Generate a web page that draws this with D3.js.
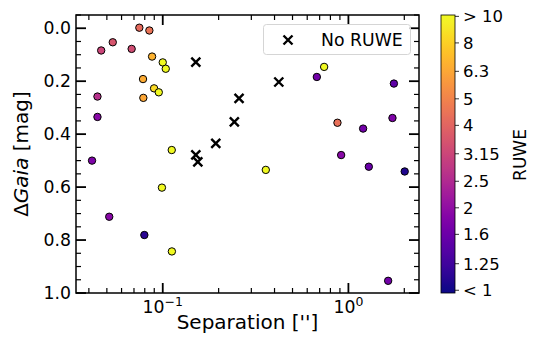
<!DOCTYPE html>
<html><head><meta charset="utf-8">
<script src="https://cdn.jsdelivr.net/npm/d3@7"></script>
<style>body{margin:0;background:#fff;} svg{display:block;font-family:"DejaVu Sans",sans-serif;}</style>
</head><body>
<svg id="c" width="541" height="343"></svg>
<script>
// Data
const sepCircles = [0.0748,0.0847,0.0538,0.0466,0.068,0.0876,0.100,0.1038,0.0783,0.0898,0.0952,0.0786,0.0445,0.0445,0.0416,0.1118,0.099,0.0515,0.0796,0.112,0.740,0.676,1.758,0.873,1.20,1.727,0.914,1.288,2.01,0.359,1.637];
const dmagCircles = [-0.002,0.0085,0.053,0.084,0.078,0.107,0.129,0.153,0.192,0.227,0.242,0.263,0.258,0.335,0.500,0.460,0.602,0.712,0.781,0.843,0.146,0.184,0.209,0.357,0.379,0.339,0.479,0.523,0.541,0.535,0.954];
const ruweCircles = [4.17,4.47,3.55,3.16,3.31,6.76,12,11,6.46,8.5,11,6.3,2.63,1.9,1.78,12,12,1.9,1.12,12,12,1.66,1.48,4.37,1.66,1.78,1.9,1.58,1.07,12,1.66];
const sepCrosses = [0.1507,0.4217,0.2576,0.243,0.193,0.1507,0.1545];
const dmagCrosses = [0.128,0.203,0.265,0.354,0.435,0.478,0.505];
const yTicks = [0.0,0.2,0.4,0.6,0.8,1.0];
const xMajorTicks = [0.1,1];
const xTickExponents = ["\u22121","0"];
const cbTickValues = [1,1.25,1.6,2,2.5,3.15,4,5,6.3,8,10];
const cbTickLabels = ["< 1","1.25","1.6","2","2.5","3.15","4","5","6.3","8","> 10"];

const svg = d3.select("#c");
const X0=76, X1=419, Y0=15, Y1=293;
const FS = 17.3;
const x = d3.scaleLog().domain([0.0341,2.40]).range([X0,X1]);
const y = d3.scaleLinear().domain([-0.05,1.0]).range([Y0,Y1]);
const cb = d3.scaleLinear().domain([-0.01,1.005]).range([Y1,Y0]);
const color = v => d3.interpolatePlasma(Math.max(0,Math.min(1,Math.log10(v))));

// Colorbar gradient
const defs = svg.append("defs");
const grad = defs.append("linearGradient").attr("id","g").attr("x1",0).attr("y1",1).attr("x2",0).attr("y2",0);
for(let i=0;i<=40;i++){const t=i/40; const lv=-0.01+t*1.015;
  grad.append("stop").attr("offset",t).attr("stop-color",d3.interpolatePlasma(Math.max(0,Math.min(1,lv))));}
const CBX=441, CBW=14;
svg.append("rect").attr("x",CBX).attr("y",Y0).attr("width",CBW).attr("height",Y1-Y0).attr("fill","url(#g)").attr("stroke","#000").attr("stroke-width",0.8);
const cbg = svg.append("g");
cbTickValues.forEach((v,i)=>{
  const yy = cb(Math.log10(v));
  cbg.append("line").attr("x1",CBX+CBW).attr("x2",CBX+CBW+4).attr("y1",yy).attr("y2",yy).attr("stroke","#000").attr("stroke-width",0.8);
  cbg.append("text").attr("x",CBX+CBW+8).attr("y",yy).attr("dy","0.36em").attr("font-size",16.5).text(cbTickLabels[i]);
});
svg.append("text").attr("transform",`translate(526,155) rotate(-90)`).attr("text-anchor","middle").attr("font-size",17).text("RUWE");

// Ticks (inward, all four sides)
const tk = svg.append("g").attr("stroke","#000");
const minorX = [];
for (let d=-2; d<=0; d++) for (let m=2;m<=9;m++){const v=m*Math.pow(10,d); if(v>=0.0341&&v<=2.40) minorX.push(v);}
minorX.forEach(v=>{const xx=x(v);
  tk.append("line").attr("x1",xx).attr("x2",xx).attr("y1",Y1).attr("y2",Y1-5).attr("stroke-width",1.2);
  tk.append("line").attr("x1",xx).attr("x2",xx).attr("y1",Y0).attr("y2",Y0+5).attr("stroke-width",1.2);});
xMajorTicks.forEach(v=>{const xx=x(v);
  tk.append("line").attr("x1",xx).attr("x2",xx).attr("y1",Y1).attr("y2",Y1-10).attr("stroke-width",1.8);
  tk.append("line").attr("x1",xx).attr("x2",xx).attr("y1",Y0).attr("y2",Y0+10).attr("stroke-width",1.8);});
for(let k=-1;k<=20;k++){const v=k*0.05; const yy=y(v); const major = (k%4===0);
  const L = major?10:5, w=major?1.8:1.2;
  tk.append("line").attr("x1",X0).attr("x2",X0+L).attr("y1",yy).attr("y2",yy).attr("stroke-width",w);
  tk.append("line").attr("x1",X1).attr("x2",X1-L).attr("y1",yy).attr("y2",yy).attr("stroke-width",w);}

// Tick labels
yTicks.forEach(v=>{svg.append("text").attr("x",X0-5).attr("y",y(v)).attr("dy","0.36em").attr("text-anchor","end").attr("font-size",FS).text(v.toFixed(1));});
xMajorTicks.forEach((v,i)=>{
  const t = svg.append("text").attr("x",x(v)).attr("y",313).attr("text-anchor","middle").attr("font-size",FS);
  t.append("tspan").text("10");
  t.append("tspan").attr("dy",-7).attr("font-size",FS*0.72).text(xTickExponents[i]);
});

// Axis labels
svg.append("text").attr("x",(X0+X1)/2).attr("y",329).attr("text-anchor","middle").attr("font-size",20).text("Separation ['']");
const yl = svg.append("text").attr("transform",`translate(28,${(Y0+Y1)/2}) rotate(-90)`).attr("text-anchor","middle").attr("font-size",20);
yl.append("tspan").text("\u0394");
yl.append("tspan").attr("font-style","italic").text("Gaia");
yl.append("tspan").text(" [mag]");

// Points
const pts = svg.append("g");
sepCircles.forEach((s,i)=>{
  pts.append("circle").attr("cx",x(s)).attr("cy",y(dmagCircles[i])).attr("r",3.7)
    .attr("fill",color(ruweCircles[i])).attr("stroke","#000").attr("stroke-width",1);
});
const cross = (g,cx,cy)=>{const h=4.5;
  g.append("path").attr("d",`M${cx-h},${cy-h}L${cx+h},${cy+h}M${cx-h},${cy+h}L${cx+h},${cy-h}`).attr("stroke","#000").attr("stroke-width",2.4).attr("fill","none");};
sepCrosses.forEach((s,i)=>cross(pts,x(s),y(dmagCrosses[i])));

// Frame
svg.append("rect").attr("x",X0).attr("y",Y0).attr("width",X1-X0).attr("height",Y1-Y0).attr("fill","none").attr("stroke","#000").attr("stroke-width",1.5);

// Legend
const lg = svg.append("g");
lg.append("rect").attr("x",263.5).attr("y",24.5).attr("width",147).attr("height",30).attr("rx",3).attr("fill","#fff").attr("fill-opacity",0.8).attr("stroke","#d5d5d5").attr("stroke-width",1);
cross(lg,288,40);
lg.append("text").attr("x",321).attr("y",45.5).attr("font-size",FS).text("No RUWE");
</script>
</body></html>
